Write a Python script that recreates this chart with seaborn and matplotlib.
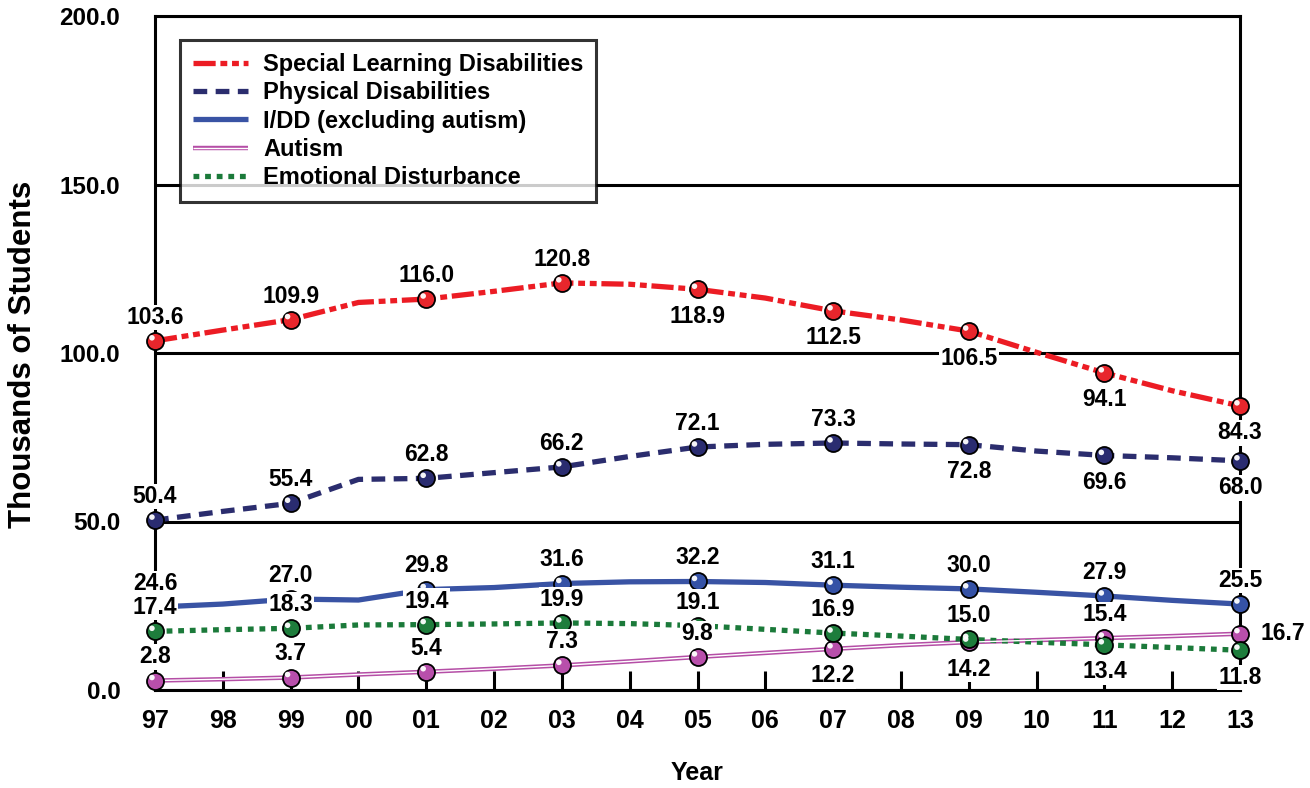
import matplotlib
matplotlib.use("Agg")
import matplotlib.pyplot as plt
import matplotlib.transforms as mtransforms
from matplotlib.lines import Line2D
import seaborn as sns
import pandas as pd

# ---------------- data ----------------
years = list(range(1997, 2014))
year_labels = ["97", "98", "99", "00", "01", "02", "03", "04", "05",
               "06", "07", "08", "09", "10", "11", "12", "13"]
y_ticks = [0, 50, 100, 150, 200]

sld = [103.6, 106.8, 109.9, 115.0, 116.0, 118.3, 120.8, 120.4, 118.9,
       116.3, 112.5, 109.8, 106.5, 100.2, 94.1, 88.8, 84.3]
phys = [50.4, 53.0, 55.4, 62.5, 62.8, 64.5, 66.2, 69.3, 72.1,
        72.9, 73.3, 73.0, 72.8, 70.9, 69.6, 68.9, 68.0]
idd = [24.6, 25.5, 27.0, 26.7, 29.8, 30.4, 31.6, 32.1, 32.2,
       31.9, 31.1, 30.5, 30.0, 29.0, 27.9, 26.6, 25.5]
autism = [2.8, 3.2, 3.7, 4.6, 5.4, 6.3, 7.3, 8.5, 9.8,
          11.0, 12.2, 13.3, 14.2, 14.8, 15.4, 16.0, 16.7]
emo = [17.4, 17.9, 18.3, 19.3, 19.4, 19.6, 19.9, 19.7, 19.1,
       18.0, 16.9, 16.0, 15.0, 14.2, 13.4, 12.6, 11.8]

series_names = ["Special Learning Disabilities", "Physical Disabilities",
                "I/DD (excluding autism)", "Autism", "Emotional Disturbance"]

# label placement for marked (odd) years: a=above, b=below, r=right
pos_sld = ["a", "a", "a", "a", "b", "b", "b", "b", "b"]
pos_phys = ["a", "a", "a", "a", "a", "a", "b", "b", "b"]
pos_idd = ["a", "a", "a", "a", "a", "a", "a", "a", "a"]
pos_aut = ["a", "a", "a", "a", "a", "b", "b", "a", "r"]
pos_emo = ["a", "a", "a", "a", "a", "a", "a", "b", "b"]

# ---------------- style ----------------
sns.set_theme(style="white")
plt.rcParams["font.family"] = ["Liberation Sans", "DejaVu Sans"]
plt.rcParams["font.weight"] = "bold"
plt.rcParams["text.color"] = "black"
plt.rcParams["axes.labelcolor"] = "black"
plt.rcParams["xtick.color"] = "black"
plt.rcParams["ytick.color"] = "black"

fig = plt.figure(figsize=(13.1, 7.88), dpi=100)
ax = fig.add_axes([155 / 1310, 1 - 690 / 788, 1085 / 1310, 674 / 788])

C_RED = "#ec1c24"
C_NAVY = "#2b2d6e"
C_BLUE = "#3953a4"
C_MAG = "#b54ea6"
C_GRN = "#1b7a3a"

LW = 3.8
styles = {
    series_names[0]: dict(color=C_RED, linestyle=(0, (4.2, 0.9, 1.3, 0.9, 1.3, 0.9)), mc="#e8262c"),
    series_names[1]: dict(color=C_NAVY, linestyle=(0, (2.6, 1.6)), mc="#2a2c70"),
    series_names[2]: dict(color=C_BLUE, linestyle="-", mc="#3552a6"),
    series_names[3]: dict(color=C_MAG, linestyle="-", mc="#b84fab"),
    series_names[4]: dict(color=C_GRN, linestyle=(0, (1.1, 1.1)), mc="#1e7d3c"),
}
values = [sld, phys, idd, autism, emo]
positions = [pos_sld, pos_phys, pos_idd, pos_aut, pos_emo]

df = pd.DataFrame({"Year": years * 5,
                   "Value": sld + phys + idd + autism + emo,
                   "Category": sum([[n] * len(years) for n in series_names], [])})

# gridlines
ax.set_ylim(0, 200)
ax.set_xlim(years[0], years[-1])
ax.set_yticks(y_ticks)
ax.set_yticklabels([f"{v:.1f}" for v in y_ticks])
ax.yaxis.grid(True, color="black", linewidth=2.2, zorder=0)
ax.xaxis.grid(False)
ax.set_axisbelow(True)

for name in series_names:
    st = styles[name]
    sub = df[df["Category"] == name]
    if name == "Autism":
        sns.lineplot(data=sub, x="Year", y="Value", ax=ax, color=C_MAG, linewidth=3.2,
                     zorder=3, legend=False, solid_capstyle="butt")
        sns.lineplot(data=sub, x="Year", y="Value", ax=ax, color="white", linewidth=1.0,
                     zorder=3.1, legend=False, solid_capstyle="butt")
    else:
        sns.lineplot(data=sub, x="Year", y="Value", ax=ax, color=st["color"], linewidth=LW,
                     linestyle=st["linestyle"], zorder=3, legend=False,
                     dash_capstyle="butt", solid_capstyle="butt")

# markers (odd years) with highlight
hl = ax.transData + mtransforms.ScaledTranslation(-2.2 / 72, 2.2 / 72, fig.dpi_scale_trans)
for name, vals in zip(series_names, values):
    mx = years[::2]
    my = vals[::2]
    sns.scatterplot(x=mx, y=my, ax=ax, s=150, color=styles[name]["mc"], edgecolor="black",
                    linewidth=1.3, zorder=5, clip_on=False, legend=False)
    ax.scatter(mx, my, s=16, color="white", edgecolor="none", zorder=6, clip_on=False,
               transform=hl, alpha=0.95)

# data labels
lab_font = dict(fontsize=16.5, fontweight="bold", color="black")
for vals, poss in zip(values, positions):
    for x, v, p in zip(years[::2], vals[::2], poss):
        if p == "a":
            off = (0, 17)
        elif p == "b":
            off = (0, -19.5)
        else:
            off = (31, 0)
        ax.annotate(f"{v:.1f}", (x, v), xytext=off, textcoords="offset points",
                    ha="center", va="center", zorder=10, annotation_clip=False,
                    bbox=dict(boxstyle="square,pad=0.05", fc="white", ec="none"),
                    **lab_font)

# axes
ax.set_xticks(years)
ax.set_xticklabels(year_labels)
ax.tick_params(axis="x", direction="in", length=14, width=2.2, color="black",
               labelcolor="black", labelsize=18, pad=14, bottom=True)
ax.tick_params(axis="y", length=0, labelsize=17.5, pad=25, labelcolor="black")
for lbl in ax.get_xticklabels() + ax.get_yticklabels():
    lbl.set_fontweight("bold")
for sp in ax.spines.values():
    sp.set_visible(True)
    sp.set_color("black")
    sp.set_linewidth(2.2)
ax.spines["left"].set_zorder(4)

ax.set_xlabel("Year", fontsize=18, fontweight="bold", color="black")
ax.set_ylabel("Thousands of Students", fontsize=22.5, fontweight="bold", color="black")
ax.xaxis.set_label_coords(0.5, -0.106)
ax.yaxis.set_label_coords(-0.108, 0.4985)

# legend
handles = [
    Line2D([], [], color=C_RED, lw=LW, linestyle=styles[series_names[0]]["linestyle"], dash_capstyle="butt"),
    Line2D([], [], color=C_NAVY, lw=LW, linestyle=styles[series_names[1]]["linestyle"], dash_capstyle="butt"),
    Line2D([], [], color=C_BLUE, lw=LW, solid_capstyle="butt"),
    (Line2D([], [], color=C_MAG, lw=3.2, solid_capstyle="butt"),
     Line2D([], [], color="white", lw=1.0, solid_capstyle="butt")),
    Line2D([], [], color=C_GRN, lw=LW, linestyle=styles[series_names[4]]["linestyle"], dash_capstyle="butt"),
]
leg = ax.legend(handles, series_names, loc="upper left", bbox_to_anchor=(0.023, 0.964),
                borderaxespad=0, frameon=True, fancybox=False, handlelength=2.35,
                handletextpad=0.62, labelspacing=0.22, borderpad=0.55,
                prop=dict(size=17, weight="bold"), labelcolor="black")
leg.get_frame().set_edgecolor("black")
leg.get_frame().set_linewidth(2.2)
leg.set_zorder(12)

fig.savefig("out.png", dpi=100)
